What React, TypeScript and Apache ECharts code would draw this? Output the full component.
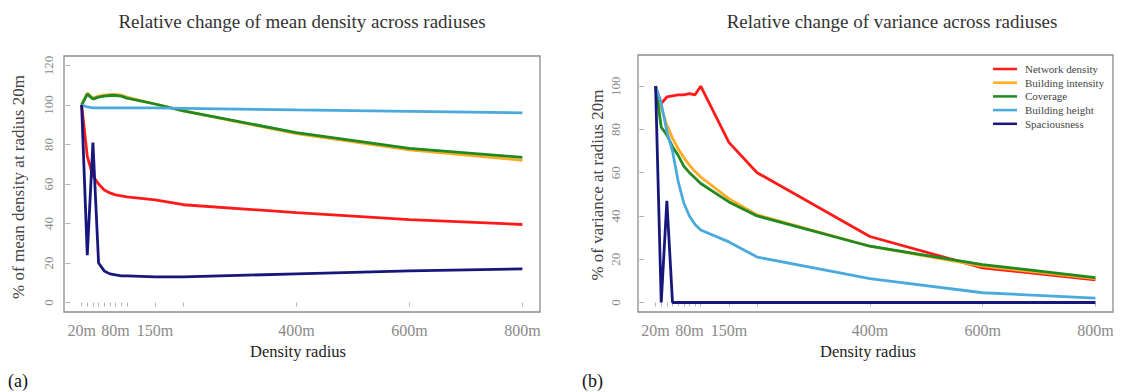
import React, { useEffect, useRef } from "react";
import * as echarts from "echarts";

const radii = [20, 30, 40, 50, 60, 70, 80, 90, 100, 150, 200, 400, 600, 800];
const xTickValues = [20, 30, 40, 50, 60, 70, 80, 90, 100, 150, 200, 400, 600, 800];
const xLabelValues = [20, 80, 150, 400, 600, 800];
const yTicksMean = [0, 20, 40, 60, 80, 100, 120];
const yTicksVar = [0, 20, 40, 60, 80, 100];

const seriesNames = ["Network density", "Building intensity", "Coverage", "Building height", "Spaciousness"];
const seriesColors = ["#ff1a1a", "#ffab24", "#1f8a1f", "#4aa9dd", "#16167c"];

// (a) % of mean density at radius 20m
const meanNetwork = [100, 74, 64, 60, 57, 55.5, 54.5, 54, 53.5, 52, 49.5, 45.5, 42, 39.5];
const meanIntensity = [100, 106, 103.5, 104.5, 105, 105.3, 105.3, 105, 104, 100.5, 97, 85.5, 77.3, 72];
const meanCoverage = [100, 105.5, 103, 104, 104.5, 104.8, 104.8, 104.5, 103.5, 100.5, 97, 86, 78, 73.5];
const meanHeight = [100, 99, 98.5, 98.5, 98.5, 98.5, 98.5, 98.5, 98.5, 98.5, 98.3, 97.5, 96.8, 96];
const meanSpacious = [100, 24, 81, 20, 16, 14.5, 14, 13.5, 13.5, 13, 13, 14.5, 16, 17];

// (b) % of variance at radius 20m
const varNetwork = [100, 92, 95, 95.5, 96, 96, 96.5, 96, 100, 74, 60, 30.5, 16, 10.5];
const varIntensity = [100, 90, 82, 76, 71, 67, 63.5, 60.5, 58, 48, 40.5, 26, 16.8, 11];
const varCoverage = [100, 81, 77.5, 72, 68, 63, 60, 57.5, 55, 46.5, 40, 26, 17.5, 11.5];
const varHeight = [100, 92, 79, 70, 56, 46, 40, 36, 33.5, 28, 21, 11, 4.5, 2];
const varSpacious = [100, 0, 47, 0, 0, 0, 0, 0, 0, 0, 0, 0, 0, 0];

const SERIF = "'Liberation Serif', 'DejaVu Serif', 'Times New Roman', serif";

function pairs(vals: number[]) {
  return radii.map((r, i) => [r, vals[i]]);
}

export default function App() {
  const ref = useRef<HTMLDivElement>(null);

  useEffect(() => {
    if (!ref.current) return;
    const chart = echarts.init(ref.current, undefined, { renderer: "svg" });

    const meanSets = [meanNetwork, meanIntensity, meanCoverage, meanHeight, meanSpacious];
    const varSets = [varNetwork, varIntensity, varCoverage, varHeight, varSpacious];

    const mkX = (gridIndex: number) => ({
      type: "value",
      gridIndex,
      min: -11.2,
      max: 831.2,
      axisLine: { show: false },
      splitLine: { show: false },
      axisTick: {
        show: true,
        customValues: xTickValues,
        length: 4,
        lineStyle: { color: "#b4b4b4", width: 1 },
      },
      axisLabel: {
        customValues: xLabelValues,
        formatter: (v: number) => v + "m",
        color: "#8a8a8a",
        fontFamily: SERIF,
        fontSize: 16,
        margin: 10,
      },
    });

    const mkY = (gridIndex: number, min: number, max: number, ticks: number[], margin: number) => ({
      type: "value",
      gridIndex,
      min,
      max,
      axisLine: { show: false },
      splitLine: { show: false },
      axisTick: {
        show: true,
        customValues: ticks,
        length: 5,
        lineStyle: { color: "#b4b4b4", width: 1 },
      },
      axisLabel: {
        customValues: ticks,
        rotate: 90,
        color: "#8a8a8a",
        fontFamily: SERIF,
        fontSize: 13,
        margin,
      },
    });

    const series: any[] = [];
    seriesNames.forEach((name, i) => {
      series.push({
        name,
        type: "line",
        xAxisIndex: 0,
        yAxisIndex: 0,
        data: pairs(meanSets[i]),
        showSymbol: false,
        symbol: "none",
        color: seriesColors[i],
        lineStyle: { width: 2.8, color: seriesColors[i] },
        z: 2 + i,
      });
    });
    seriesNames.forEach((name, i) => {
      series.push({
        name,
        type: "line",
        xAxisIndex: 1,
        yAxisIndex: 1,
        data: pairs(varSets[i]),
        showSymbol: false,
        symbol: "none",
        color: seriesColors[i],
        lineStyle: { width: 2.8, color: seriesColors[i] },
        z: 2 + i,
      });
    });

    const txt = (x: number, y: number, text: string, size: number, fill: string, extra: any = {}) => ({
      type: "text",
      x,
      y,
      ...extra,
      style: {
        text,
        fill,
        fontFamily: SERIF,
        fontSize: size,
        align: extra.align || "center",
        verticalAlign: "middle",
      },
    });

    chart.setOption({
      animation: false,
      backgroundColor: "#ffffff",
      textStyle: { fontFamily: SERIF },
      grid: [
        { left: 64, top: 56, width: 476, height: 256, show: true, borderColor: "#8c8c8c", borderWidth: 1.3, containLabel: false },
        { left: 638, top: 55, width: 475, height: 257, show: true, borderColor: "#8c8c8c", borderWidth: 1.3, containLabel: false },
      ],
      xAxis: [mkX(0), mkX(1)],
      yAxis: [mkY(0, -4.8, 124.8, yTicksMean, 9), mkY(1, -4.4, 114.4, yTicksVar, 16)],
      legend: {
        data: seriesNames,
        orient: "vertical",
        left: 993,
        top: 63,
        padding: 0,
        icon: "rect",
        itemWidth: 24,
        itemHeight: 2.5,
        itemGap: 1.7,
        textStyle: {
          fontFamily: SERIF,
          fontSize: 11,
          lineHeight: 12,
          color: "#444",
          padding: [0, 0, 0, 3],
        },
        selectedMode: false,
      },
      graphic: [
        txt(302, 21, "Relative change of mean density across radiuses", 19, "#333"),
        txt(892, 21, "Relative change of variance across radiuses", 19, "#333"),
        txt(18, 187, "% of mean density at radius 20m", 17, "#444", { rotation: Math.PI / 2 }),
        txt(597, 185, "% of variance at radius 20m", 17, "#444", { rotation: Math.PI / 2 }),
        txt(298, 351, "Density radius", 16.5, "#222"),
        txt(868, 351, "Density radius", 16.5, "#222"),
        txt(8, 381, "(a)", 18, "#111", { align: "left" }),
        txt(582, 381, "(b)", 18, "#111", { align: "left" }),
      ],
      series,
    });

    return () => chart.dispose();
  }, []);

  return (
    <div
      ref={ref}
      style={{ position: "fixed", left: 0, top: 0, width: 1124, height: 392, background: "#fff" }}
    />
  );
}
